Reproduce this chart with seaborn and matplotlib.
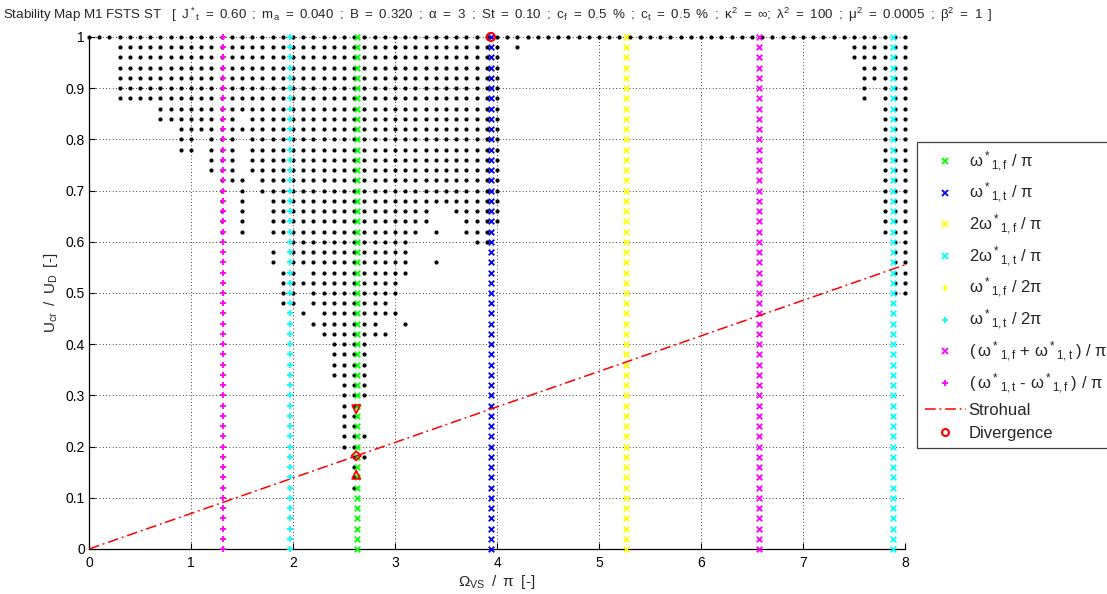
import numpy as np
import pandas as pd
import matplotlib
matplotlib.use("Agg")
import matplotlib.pyplot as plt
import seaborn as sns
from matplotlib.lines import Line2D

sns.set_style("white")
plt.rcParams["font.family"] = ["Liberation Sans", "DejaVu Sans"]
plt.rcParams["mathtext.fontset"] = "custom"
plt.rcParams["mathtext.rm"] = "Liberation Sans"
plt.rcParams["mathtext.it"] = "Liberation Sans:italic"

# ---------------- data ----------------
# unstable points of the stability map: rows of (U_cr/U_D, [(x_from, x_to), ...]) on a 0.1 grid
stab_rows = [
    (1.00, [(0.0, 8.0)]),
    (0.98, [(0.3, 4.0), (4.2, 4.2), (7.5, 8.0)]),
    (0.96, [(0.3, 4.0), (7.5, 8.0)]),
    (0.94, [(0.3, 4.0), (7.6, 8.0)]),
    (0.92, [(0.3, 4.0), (7.6, 8.0)]),
    (0.90, [(0.3, 4.0), (7.6, 7.6), (7.8, 8.0)]),
    (0.88, [(0.3, 4.0), (7.6, 7.6), (7.8, 8.0)]),
    (0.86, [(0.7, 4.0), (7.8, 8.0)]),
    (0.84, [(0.7, 1.4), (1.6, 4.0), (7.8, 8.0)]),
    (0.82, [(0.9, 4.0), (7.8, 8.0)]),
    (0.80, [(0.9, 1.0), (1.2, 1.4), (1.6, 4.0), (7.8, 8.0)]),
    (0.78, [(0.9, 1.0), (1.2, 1.4), (1.6, 4.0), (7.8, 8.0)]),
    (0.76, [(1.2, 1.4), (1.6, 4.0), (7.8, 8.0)]),
    (0.74, [(1.2, 1.4), (1.6, 4.0), (7.8, 8.0)]),
    (0.72, [(1.3, 1.5), (1.7, 4.0), (7.8, 8.0)]),
    (0.70, [(1.3, 1.3), (1.5, 1.5), (1.7, 4.0), (7.8, 8.0)]),
    (0.68, [(1.3, 1.3), (1.5, 1.5), (1.8, 4.0), (7.8, 8.0)]),
    (0.66, [(1.3, 1.3), (1.5, 1.5), (1.8, 3.3), (3.6, 4.0), (7.8, 8.0)]),
    (0.64, [(1.3, 1.3), (1.5, 1.5), (1.8, 3.3), (3.7, 4.0), (7.8, 8.0)]),
    (0.62, [(1.3, 1.3), (1.5, 1.5), (1.8, 3.2), (3.4, 3.4), (3.7, 3.9), (7.8, 8.0)]),
    (0.60, [(2.0, 3.1), (3.8, 3.9), (7.9, 8.0)]),
    (0.58, [(1.8, 1.8), (2.0, 3.1), (7.9, 8.0)]),
    (0.56, [(1.8, 1.8), (2.0, 3.1), (3.4, 3.4), (7.9, 8.0)]),
    (0.54, [(1.9, 2.0), (2.2, 3.1), (7.9, 8.0)]),
    (0.52, [(1.9, 3.0), (7.9, 8.0)]),
    (0.50, [(1.9, 2.0), (2.2, 3.0), (7.9, 8.0)]),
    (0.48, [(1.9, 2.0), (2.2, 2.9)]),
    (0.46, [(2.1, 2.1), (2.3, 3.0)]),
    (0.44, [(2.2, 2.8), (3.1, 3.1)]),
    (0.42, [(2.3, 2.9)]),
    (0.40, [(2.4, 2.7)]),
    (0.38, [(2.4, 2.7)]),
    (0.36, [(2.4, 2.7)]),
    (0.34, [(2.4, 2.7)]),
    (0.32, [(2.5, 2.7)]),
    (0.30, [(2.5, 2.7)]),
    (0.28, [(2.5, 2.6)]),
    (0.26, [(2.5, 2.6)]),
    (0.24, [(2.5, 2.6)]),
    (0.22, [(2.5, 2.7)]),
    (0.20, [(2.5, 2.6)]),
    (0.18, [(2.6, 2.7)]),
    (0.16, [(2.6, 2.6)]),
    (0.14, [(2.6, 2.6)]),
    (0.12, [(2.6, 2.6)]),
]

# characteristic frequencies (Omega_VS / pi)
S = "$\\mathregular{^*{}_{%s}}$"
T = "\u2009"
freq_labels = [
    "ω" + S % "1,f" + " / π",
    "ω" + S % "1,t" + " / π",
    "2ω" + S % "1,f" + " / π",
    "2ω" + S % "1,t" + " / π",
    "ω" + S % "1,f" + " / 2π",
    "ω" + S % "1,t" + " / 2π",
    "(" + T + "ω" + S % "1,f" + " + ω" + S % "1,t" + T + ") / π",
    "(" + T + "ω" + S % "1,t" + " - ω" + S % "1,f" + T + ") / π",
]
freq_values = [2.63, 3.94, 5.26, 7.88, 1.315, 1.97, 6.57, 1.31]
freq_colors = ["#00ff00", "#0000ff", "#ffff00", "#00ffff", "#ffff00", "#00ffff", "#ff00ff", "#ff00ff"]
freq_markers = ["x", "x", "x", "x", "+", "+", "x", "+"]
u_levels = np.round(np.arange(0, 1.0001, 0.02), 2)

strouhal_x = [0.0, 8.0]
strouhal_y = [0.0, 0.555]

divergence_x = [3.94]
divergence_y = [1.0]
flutter_x = [2.62, 2.62, 2.62]
flutter_y = [0.273, 0.182, 0.145]
flutter_markers = ["v", "D", "^"]

sp = " \u2009"
title_parts = ["[", "J$\\mathregular{^*{}_t}$", "=", "0.60", ";", "m$\\mathregular{_a}$", "=", "0.040", ";",
               "B", "=", "0.320", ";", "α", "=", "3", ";", "St", "=", "0.10", ";",
               "c$\\mathregular{_f}$", "=", "0.5", "%", ";", "c$\\mathregular{_t}$", "=", "0.5", "%", ";",
               "κ$\\mathregular{^2}$", "=", "∞;", "λ$\\mathregular{^2}$", "=", "100", ";",
               "μ$\\mathregular{^2}$", "=", "0.0005", ";", "β$\\mathregular{^2}$", "=", "1", "]"]
title = "Stability Map M1 FSTS ST   " + sp.join(title_parts)

# ---------------- build table ----------------
pts = []
for u, ranges in stab_rows:
    for a, b in ranges:
        n = int(round((b - a) / 0.1))
        for k in range(n + 1):
            pts.append((round(a + 0.1 * k, 1), u))
dots = pd.DataFrame(pts, columns=["omega", "u"])

# ---------------- plot ----------------
W, H = 1107, 594
fig = plt.figure(figsize=(W / 100, H / 100), dpi=100)
ax = fig.add_axes([89 / W, 1 - 549 / H, 816 / W, 512 / H])

sns.scatterplot(data=dots, x="omega", y="u", color="black", s=9, linewidth=0,
                marker="o", ax=ax, clip_on=False, zorder=2, legend=False)

handles = []
for lbl, xv, c, m in zip(freq_labels, freq_values, freq_colors, freq_markers):
    sns.scatterplot(x=np.full(len(u_levels), xv), y=u_levels, marker=m, color=c,
                    s=16, linewidth=1.3, ax=ax, clip_on=False, zorder=3, legend=False)
    handles.append(Line2D([], [], marker=m, color=c, ls="none", markersize=4, mew=1.3))

sns.lineplot(x=strouhal_x, y=strouhal_y, color="red", linewidth=1.1, ax=ax,
             zorder=4, legend=False)
ax.lines[-1].set_dashes([7, 2.5, 1.2, 2.5])
handles.append(Line2D([], [], color="red", lw=1.1, dashes=[7, 2.5, 1.2, 2.5]))

for xv, yv, m in zip(flutter_x, flutter_y, flutter_markers):
    ax.scatter([xv], [yv], marker=m, facecolors="none", edgecolors="red",
               s=34 if m != "D" else 22, linewidths=1.3, zorder=5, clip_on=False)
ax.scatter(divergence_x, divergence_y, marker="o", facecolors="none", edgecolors="red",
           s=34, linewidths=1.5, zorder=5, clip_on=False)
handles.append(Line2D([], [], marker="o", color="red", mfc="none", ls="none",
                      markersize=5, mew=1.5))

labels = freq_labels + ["Strohual", "Divergence"]

ax.set_xlim(0, 8)
ax.set_ylim(0, 1)
ax.set_xticks(range(0, 9))
ax.set_xticklabels([str(v) for v in range(0, 9)])
yt = np.round(np.arange(0, 1.01, 0.1), 1)
ax.set_yticks(yt)
ax.set_yticklabels(["0" if v == 0 else ("1" if v == 1 else f"{v:.1f}") for v in yt])
ax.tick_params(direction="in", length=4, width=0.8, labelsize=10, colors="black",
               top=False, right=False, bottom=True, left=True)
ax.tick_params(axis="y", pad=3)
ax.tick_params(axis="x", pad=5)
ax.grid(True, color="black", linestyle=(0, (1, 3)), linewidth=0.6)
for s in ["top", "right"]:
    ax.spines[s].set_visible(False)
for s in ["left", "bottom"]:
    ax.spines[s].set_color("black")
    ax.spines[s].set_linewidth(0.9)

ax.set_xlabel("Ω$\\mathregular{_{VS}}$ \u2009/ \u2009π \u2009[-]", fontsize=11, labelpad=2)
ax.set_ylabel("U$\\mathregular{_{cr}}$ \u2009/ \u2009U$\\mathregular{_D}$ \u2009[-]", fontsize=11, labelpad=4)
fig.text(3 / W, 1 - 15 / H, title, fontsize=9.6, ha="left", va="center")

leg = ax.legend(handles, labels, loc="upper left",
                bbox_to_anchor=(917 / W, 1 - 142 / H), bbox_transform=fig.transFigure,
                fontsize=12, frameon=True, fancybox=False, framealpha=1,
                edgecolor="0.25", borderaxespad=0, handlelength=2.5,
                labelspacing=0.45, handletextpad=0.15, borderpad=0.45)
leg.get_frame().set_linewidth(0.9)

fig.savefig("out.png", dpi=100)
